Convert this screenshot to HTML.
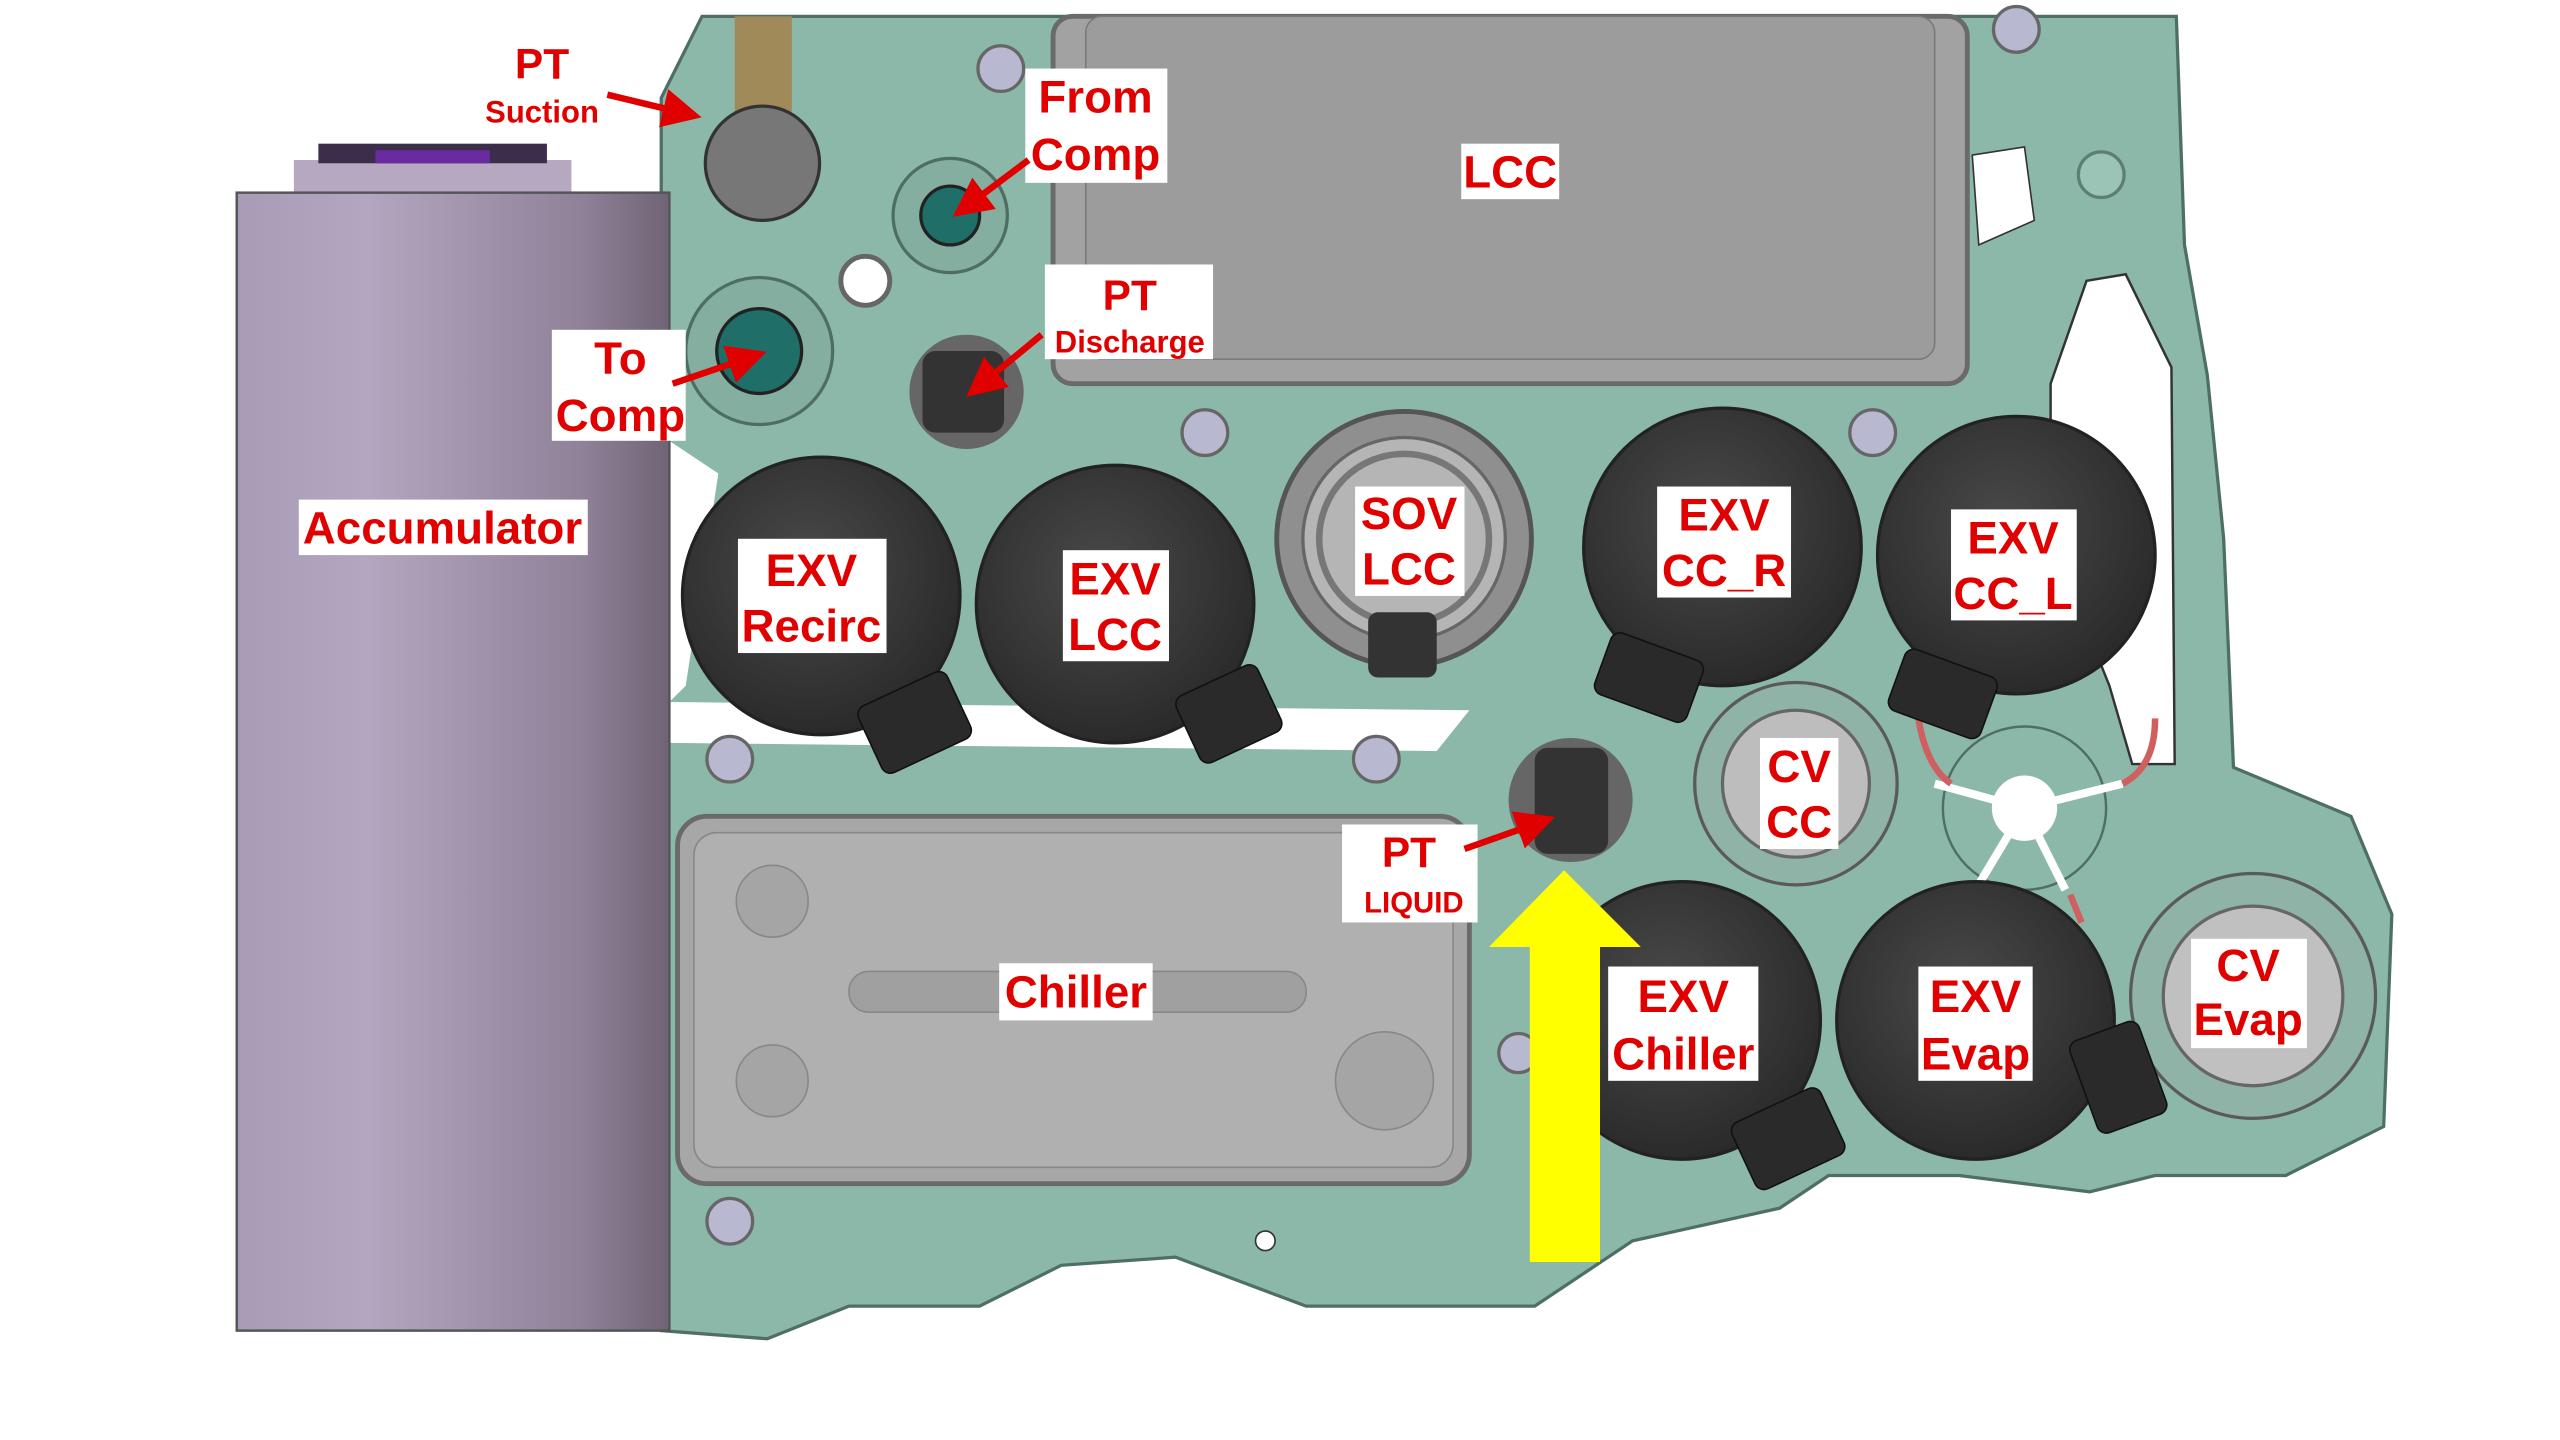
<!DOCTYPE html>
<html><head><meta charset="utf-8"><style>
html,body{margin:0;padding:0;background:#fff;}
svg{display:block;}
text{font-family:"Liberation Sans",Arial,sans-serif;font-weight:bold;fill:#e00000;text-anchor:middle;}
</style></head><body>
<svg width="2560" height="1440" viewBox="0 0 1568 882" xmlns="http://www.w3.org/2000/svg">
<defs>
<linearGradient id="acc" x1="0" x2="1">
<stop offset="0" stop-color="#a89bb5"/><stop offset="0.3" stop-color="#b3a6c0"/><stop offset="0.8" stop-color="#8f8198"/><stop offset="1" stop-color="#6f6475"/>
</linearGradient>
<radialGradient id="blk" cx="0.45" cy="0.4" r="0.6"><stop offset="0" stop-color="#4a4a4a"/><stop offset="1" stop-color="#2a2a2a"/></radialGradient>
<marker id="ah" markerWidth="6" markerHeight="6" refX="4" refY="3" orient="auto"><path d="M0,0 L6,3 L0,6 z" fill="#e00000"/></marker>
</defs>
<rect width="1568" height="882" fill="#fff"/>
<!-- green plate -->
<path d="M405,60 L430,10 L1333,10 L1338,150 L1352,230 L1362,330 L1368,470 L1440,500 L1465,560 L1460,690 L1400,720 L1320,720 L1280,730 L1200,720 L1120,720 L1090,740 L1000,760 L940,800 L800,800 L720,770 L650,775 L600,800 L520,800 L470,820 L405,815 Z" fill="#8cb8aa" stroke="#4f6f64" stroke-width="2"/>
<path d="M1256,235 L1278,172 L1302,168 L1330,225 L1332,468 L1306,468 L1292,420 L1256,330 Z" fill="#fff" stroke="#333" stroke-width="1.5"/>
<path d="M1208,95 L1240,90 L1246,135 L1212,150 Z" fill="#fff" stroke="#333" stroke-width="1"/>
<circle cx="1287" cy="107" r="14" fill="#9cc4b6" stroke="#5d7f73" stroke-width="2"/>
<path d="M410,270 L440,290 L420,420 L410,430 Z" fill="#fff"/>
<path d="M410,430 L900,435 L880,460 L410,455 Z" fill="#fff"/>
<!-- LCC -->
<rect x="645" y="10" width="560" height="225" rx="12" fill="#a2a2a2" stroke="#6a6a6a" stroke-width="3"/>
<rect x="665" y="10" width="520" height="210" rx="10" fill="#9c9c9c" stroke="#7a7a7a"/>
<!-- chiller -->
<rect x="415" y="500" width="485" height="225" rx="18" fill="#a7a7a7" stroke="#6a6a6a" stroke-width="3"/>
<rect x="425" y="510" width="465" height="205" rx="14" fill="#b0b0b0" stroke="#888"/>
<circle cx="473" cy="552" r="22" fill="#a5a5a5" stroke="#888"/>
<circle cx="473" cy="662" r="22" fill="#a5a5a5" stroke="#888"/>
<circle cx="848" cy="662" r="30" fill="#a5a5a5" stroke="#888"/>
<rect x="520" y="595" width="280" height="25" rx="12" fill="#a0a0a0" stroke="#888"/>
<!-- bolts -->
<g fill="#b8b8d0" stroke="#666" stroke-width="2">
<circle cx="613" cy="42" r="14"/><circle cx="738" cy="265" r="14"/><circle cx="1147" cy="265" r="14"/><circle cx="1235" cy="18" r="14"/>
<circle cx="447" cy="465" r="14"/><circle cx="843" cy="465" r="14"/><circle cx="447" cy="748" r="14"/><circle cx="930" cy="645" r="12"/>
</g>
<circle cx="775" cy="760" r="6" fill="#fff" stroke="#333"/>
<!-- accumulator -->
<rect x="180" y="98" width="170" height="22" fill="#b5a8c0"/>
<rect x="195" y="88" width="140" height="12" fill="#3a2e4a"/>
<rect x="230" y="92" width="70" height="8" fill="#6a2aa0"/>
<rect x="145" y="118" width="265" height="697" fill="url(#acc)" stroke="#555" stroke-width="1.5"/>
<!-- ports -->
<circle cx="465" cy="215" r="45" fill="#84ae9f" stroke="#4e6e64" stroke-width="2"/><circle cx="465" cy="215" r="26" fill="#1f6e68" stroke="#222" stroke-width="2"/>
<circle cx="582" cy="132" r="35" fill="#84ae9f" stroke="#4e6e64" stroke-width="2"/><circle cx="582" cy="132" r="18" fill="#1f6e68" stroke="#222" stroke-width="2"/>
<circle cx="530" cy="172" r="15" fill="#fff" stroke="#666" stroke-width="3"/>
<circle cx="592" cy="240" r="35" fill="#666"/><rect x="565" y="215" width="50" height="50" rx="8" fill="#333"/>
<rect x="450" y="10" width="35" height="75" fill="#a08a5a"/><circle cx="467" cy="100" r="35" fill="#777" stroke="#333" stroke-width="2"/>
<!-- gray valves -->
<circle cx="860" cy="330" r="78" fill="#8f8f8f" stroke="#555" stroke-width="3"/><circle cx="860" cy="330" r="62" fill="#b5b5b5" stroke="#666" stroke-width="2"/>
<circle cx="860" cy="330" r="52" fill="none" stroke="#777" stroke-width="4"/>
<rect x="838" y="375" width="42" height="40" rx="6" fill="#333"/>
<circle cx="1100" cy="480" r="62" fill="#8fb3a6" stroke="#5a5a5a" stroke-width="2"/><circle cx="1100" cy="480" r="45" fill="#bdbdbd" stroke="#666" stroke-width="2"/>
<circle cx="1380" cy="610" r="75" fill="#8fb3a6" stroke="#5a5a5a" stroke-width="2"/><circle cx="1380" cy="610" r="55" fill="#c0c0c0" stroke="#666" stroke-width="2"/>
<circle cx="1240" cy="495" r="50" fill="#8cb8aa" stroke="#4f6f64" stroke-width="1.5"/>
<g stroke="#fff" stroke-width="5"><line x1="1240" y1="495" x2="1185" y2="480"/><line x1="1240" y1="495" x2="1300" y2="480"/><line x1="1240" y1="495" x2="1210" y2="545"/><line x1="1240" y1="495" x2="1265" y2="545"/></g>
<g stroke="#d06060" stroke-width="4" fill="none"><path d="M1175,440 Q1180,470 1195,480"/><path d="M1320,440 Q1320,470 1300,480"/><path d="M1205,548 L1195,560"/><path d="M1268,548 L1275,565"/></g>
<circle cx="1240" cy="495" r="20" fill="#fff"/>
<circle cx="962" cy="490" r="38" fill="#666"/><rect x="940" y="458" width="45" height="65" rx="8" fill="#333"/>
<!-- black EXVs -->
<g fill="url(#blk)" stroke="#222" stroke-width="2">
<circle cx="503" cy="365" r="85"/><circle cx="683" cy="370" r="85"/><circle cx="1055" cy="335" r="85"/><circle cx="1235" cy="340" r="85"/><circle cx="1030" cy="625" r="85"/><circle cx="1210" cy="625" r="85"/>
</g>
<g fill="#2a2a2a" stroke="#111">
<rect x="530" y="420" width="60" height="45" rx="6" transform="rotate(-25 560 442)"/>
<rect x="725" y="415" width="55" height="45" rx="6" transform="rotate(-25 752 437)"/>
<rect x="980" y="395" width="60" height="40" rx="6" transform="rotate(20 1010 415)"/>
<rect x="1160" y="405" width="60" height="40" rx="6" transform="rotate(20 1190 425)"/>
<rect x="1065" y="675" width="60" height="45" rx="6" transform="rotate(-25 1095 697)"/>
<rect x="1275" y="630" width="45" height="60" rx="6" transform="rotate(-20 1297 660)"/>
</g>
<!-- yellow arrow -->
<rect x="937" y="578" width="43" height="195" fill="#ffff00"/>
<polygon points="912,580 1005,580 958,533" fill="#ffff00"/>
<!-- labels -->
<g fill="#fff">
<rect x="628" y="42" width="87" height="70"/><rect x="895" y="88" width="60" height="34"/>
<rect x="640" y="162" width="103" height="58"/><rect x="338" y="202" width="82" height="68"/>
<rect x="183" y="306" width="177" height="34"/><rect x="452" y="330" width="91" height="70"/>
<rect x="651" y="337" width="65" height="68"/><rect x="830" y="298" width="67" height="67"/>
<rect x="1015" y="298" width="82" height="68"/><rect x="1195" y="312" width="77" height="68"/>
<rect x="1078" y="452" width="48" height="68"/><rect x="822" y="505" width="83" height="60"/>
<rect x="612" y="590" width="94" height="35"/><rect x="985" y="592" width="92" height="70"/>
<rect x="1175" y="592" width="70" height="70"/><rect x="1342" y="575" width="71" height="67"/>
</g>
<g font-size="28">
<text x="332" y="48" font-size="26">PT</text><text x="332" y="75" font-size="19">Suction</text>
<text x="671" y="69">From</text><text x="671" y="104">Comp</text>
<text x="925" y="115">LCC</text>
<text x="692" y="190" font-size="26">PT</text><text x="692" y="216" font-size="19">Discharge</text>
<text x="380" y="229">To</text><text x="380" y="264">Comp</text>
<text x="271" y="333">Accumulator</text>
<text x="497" y="359">EXV</text><text x="497" y="393">Recirc</text>
<text x="683" y="364">EXV</text><text x="683" y="398">LCC</text>
<text x="863" y="324">SOV</text><text x="863" y="358">LCC</text>
<text x="1056" y="325">EXV</text><text x="1056" y="359">CC_R</text>
<text x="1233" y="339">EXV</text><text x="1233" y="373">CC_L</text>
<text x="1102" y="479">CV</text><text x="1102" y="513">CC</text>
<text x="863" y="531" font-size="26">PT</text><text x="866" y="559" font-size="18">LIQUID</text>
<text x="659" y="617">Chiller</text>
<text x="1031" y="620">EXV</text><text x="1031" y="655">Chiller</text>
<text x="1210" y="620">EXV</text><text x="1210" y="655">Evap</text>
<text x="1377" y="601">CV</text><text x="1377" y="634">Evap</text>
</g>
<!-- red arrows -->
<g stroke="#e00000" stroke-width="4" fill="none" marker-end="url(#ah)">
<line x1="372" y1="58" x2="422" y2="70"/>
<line x1="630" y1="98" x2="590" y2="128"/>
<line x1="638" y1="205" x2="598" y2="238"/>
<line x1="412" y1="235" x2="462" y2="218"/>
<line x1="897" y1="520" x2="945" y2="503"/>
</g>
</svg>
</body></html>
